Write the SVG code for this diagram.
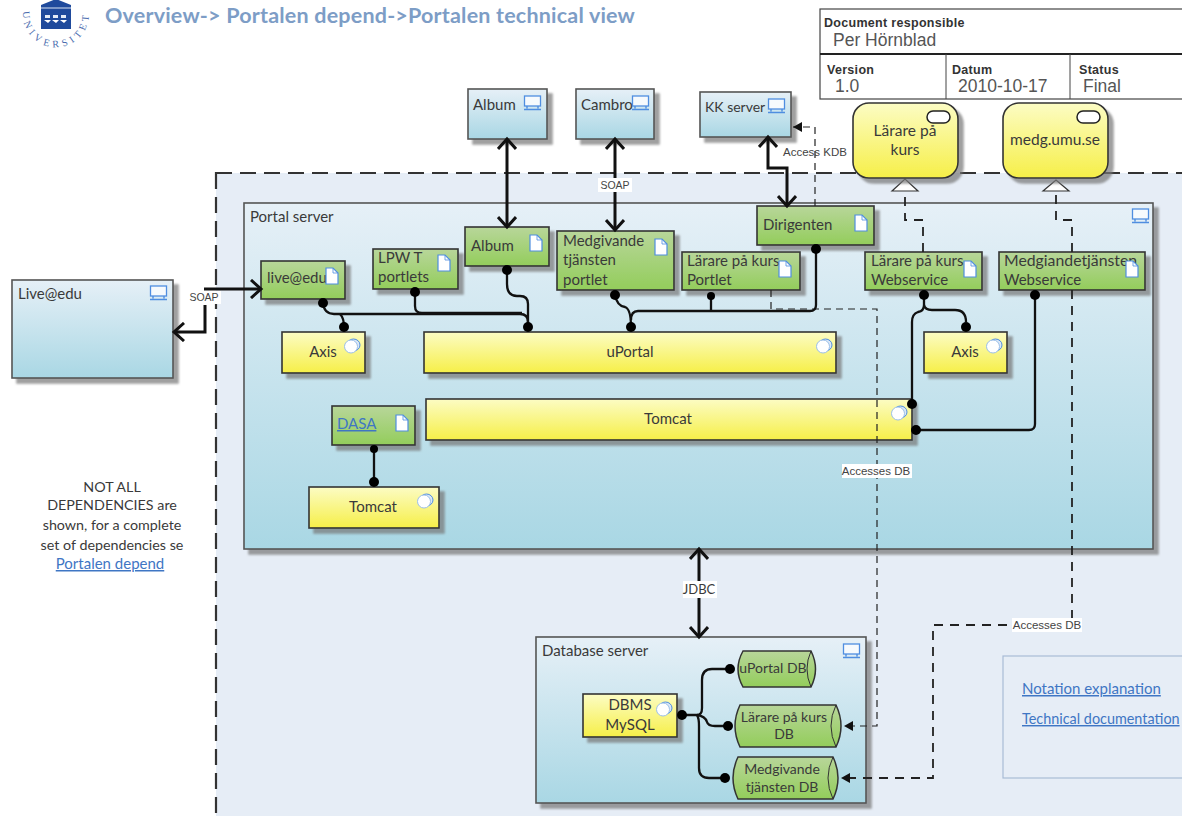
<svg xmlns="http://www.w3.org/2000/svg" width="1182" height="816" viewBox="0 0 1182 816">
<style>
text{font-family:"Lato","Liberation Sans",sans-serif;fill:#3a3a3a;font-size:15px}
.m{text-anchor:middle}
.box{stroke:#333;stroke-width:1.6;filter:url(#sh)}
.srv{fill:url(#gs);stroke:#555}
.yel{fill:url(#gy)}
.grn{fill:url(#gg)}
.link{fill:#3f76c4;text-decoration:underline}
.lab{font-family:"Liberation Sans",sans-serif;font-size:11.5px;fill:#444}
.tb{font-family:"Liberation Sans",sans-serif;font-size:12.5px;font-weight:bold;fill:#333;letter-spacing:.3px}
.tv{font-family:"Liberation Sans",sans-serif;font-size:17.5px;fill:#555}
.note{font-size:14.3px}
.c{fill:none;stroke:#111;stroke-width:2.3}
.ct{fill:none;stroke:#111;stroke-width:3}
.d{fill:none;stroke:#222;stroke-width:1.2;stroke-dasharray:7 5}
.dd{fill:none;stroke:#222;stroke-width:1.8;stroke-dasharray:9 7}
.dot{fill:#000}
.lbg{fill:#fff}
</style>
<defs>
<linearGradient id="gs" x1="0" y1="0" x2="0" y2="1"><stop offset="0" stop-color="#e6f0f7"/><stop offset="1" stop-color="#a9d7e4"/></linearGradient>
<linearGradient id="gy" x1="0" y1="0" x2="0" y2="1"><stop offset="0" stop-color="#fcfcc4"/><stop offset="1" stop-color="#f6ef48"/></linearGradient>
<linearGradient id="gg" x1="0" y1="0" x2="0" y2="1"><stop offset="0" stop-color="#b8d69a"/><stop offset="1" stop-color="#93cd5b"/></linearGradient>
<filter id="sh" x="-10%" y="-10%" width="125%" height="130%"><feDropShadow dx="5" dy="5" stdDeviation="1" flood-color="#777" flood-opacity=".7"/></filter>
<marker id="open" markerUnits="userSpaceOnUse" markerWidth="24" markerHeight="20" refX="20" refY="10" orient="auto-start-reverse"><path d="M10 1 L20 10 L10 19" fill="none" stroke="#111" stroke-width="3"/></marker>
<marker id="fill" markerUnits="userSpaceOnUse" markerWidth="12" markerHeight="12" refX="10" refY="6" orient="auto"><path d="M1 1 L10 6 L1 11Z" fill="#111"/></marker>
<symbol id="pc" width="19" height="16" viewBox="0 0 19 16"><rect x="1.5" y="1" width="16" height="10" fill="#f6fafd" stroke="#4f8ee0" stroke-width="1.3"/><path d="M4 11V13.5M15 11V13.5M1 14.5H18" fill="none" stroke="#4f8ee0" stroke-width="1.4"/></symbol>
<symbol id="doc" width="14" height="18" viewBox="0 0 14 18"><path d="M1 1H8L13 6V17H1Z" fill="#fff" stroke="#4f8ee0" stroke-width="1.2"/><path d="M8 1V6H13" fill="none" stroke="#4f8ee0" stroke-width=".8"/></symbol>
<symbol id="svc" width="18" height="16" viewBox="0 0 18 16"><ellipse cx="10.5" cy="7" rx="6.5" ry="6" fill="#dbe8f6" stroke="#4f8ee0"/><ellipse cx="8" cy="8.5" rx="6.5" ry="6.5" fill="#fff" stroke="#9cc0ea"/></symbol>
<path id="arc" d="M25 3A33 33 0 1 0 87 3"/>
</defs>

<g id="logo">
<path d="M41 29V5L56 -1L71 5V29Z" fill="#1f4a9c"/>
<path d="M41 8H71" stroke="#dbe4f3" stroke-width="1"/>
<path d="M45 15h5v3h-5zM53 15h5v3h-5zM61 15h5v3h-5z" fill="#e4ebf6"/>
<path d="M44 20l4 3l3 -3zM52 20l4 3l3 -3zM60 20l4 3l3 -3z" fill="#fff"/>
<text style="font-family:'Liberation Serif',serif;font-size:10px;fill:#4a6cae;letter-spacing:4px;text-anchor:middle"><textPath href="#arc" startOffset="50%">UNIVERSITET</textPath></text>
</g>
<text id="title" x="105" y="23" style="font-size:21.5px;font-weight:bold;fill:#7d9dc6;letter-spacing:.2px">Overview-&gt; Portalen depend-&gt;Portalen technical view</text>

<g id="doc-table" fill="none" stroke="#444">
<rect x="820" y="9" width="370" height="90" fill="#fff" stroke-width="1.2"/>
<path d="M820 54H1182" stroke-width="1.8" stroke="#222"/>
<path d="M946 54V99M1070 54V99" stroke-width="1"/>
<g stroke="none">
<text class="tb" x="824" y="27">Document responsible</text>
<text class="tv" x="833" y="46">Per Hörnblad</text>
<text class="tb" x="827" y="74">Version</text>
<text class="tv" x="835" y="92">1.0</text>
<text class="tb" x="952" y="74">Datum</text>
<text class="tv" x="958" y="92">2010-10-17</text>
<text class="tb" x="1079" y="74">Status</text>
<text class="tv" x="1083" y="92">Final</text>
</g>
</g>

<g id="zone"><rect x="216" y="173" width="1000" height="700" fill="#e6edf6" stroke="#333" stroke-width="2.2" stroke-dasharray="16 8"/></g>

<g id="live-server"><rect class="box srv" x="12" y="280" width="161" height="98"/><text x="18" y="299">Live@edu</text><use href="#pc" x="149" y="285"/></g>
<g id="album-server"><rect class="box srv" x="468" y="89" width="79" height="50"/><text x="473" y="110">Album</text><use href="#pc" x="523" y="95"/></g>
<g id="cambro-server"><rect class="box srv" x="576" y="89" width="78" height="50"/><text x="581" y="110">Cambro</text><use href="#pc" x="631" y="95"/></g>
<g id="kk-server"><rect class="box srv" x="700" y="92" width="91" height="45"/><text x="705" y="112" style="font-size:14px">KK server</text><use href="#pc" x="767" y="98"/></g>

<g id="portal-server"><rect class="box srv" x="244" y="203" width="909" height="346"/><text x="250" y="222">Portal server</text><use href="#pc" x="1131" y="208"/></g>
<g id="db-server"><rect class="box srv" x="536" y="637" width="330" height="166"/><text x="542" y="656">Database server</text><use href="#pc" x="842" y="643"/></g>

<g id="live-portlet"><rect class="box grn" x="261" y="261" width="84" height="38"/><text x="267" y="283">live@edu</text><use href="#doc" x="325" y="267"/></g>
<g id="lpw"><rect class="box grn" x="373" y="249" width="85" height="40"/><text x="378" y="263">LPW T</text><text x="378" y="282">portlets</text><use href="#doc" x="437" y="254"/></g>
<g id="album"><rect class="box grn" x="465" y="227" width="84" height="39"/><text x="471" y="251">Album</text><use href="#doc" x="529" y="234"/></g>
<g id="medgivande"><rect class="box grn" x="557" y="231" width="117" height="59"/><text x="563" y="246">Medgivande</text><text x="563" y="265">tjänsten</text><text x="563" y="285">portlet</text><use href="#doc" x="654" y="238"/></g>
<g id="larare-portlet"><rect class="box grn" x="682" y="252" width="118" height="38"/><text x="687" y="266">Lärare på kurs</text><text x="687" y="285">Portlet</text><use href="#doc" x="778" y="260"/></g>
<g id="dirigenten"><rect class="box grn" x="757" y="206" width="117" height="39"/><text x="763" y="230">Dirigenten</text><use href="#doc" x="854" y="214"/></g>
<g id="larare-ws"><rect class="box grn" x="865" y="252" width="117" height="38"/><text x="871" y="266">Lärare på kurs</text><text x="871" y="285">Webservice</text><use href="#doc" x="963" y="260"/></g>
<g id="medg-ws"><rect class="box grn" x="999" y="252" width="146" height="38"/><text x="1004" y="266" style="font-size:15.8px">Medgiandetjänsten</text><text x="1004" y="285">Webservice</text><use href="#doc" x="1125" y="260"/></g>
<g id="axis-left"><rect class="box yel" x="282" y="332" width="83" height="41"/><text class="m" x="323" y="357">Axis</text><use href="#svc" x="343" y="338"/></g>
<g id="uportal"><rect class="box yel" x="424" y="332" width="412" height="41"/><text class="m" x="630" y="357">uPortal</text><use href="#svc" x="815" y="338"/></g>
<g id="axis-right"><rect class="box yel" x="924" y="332" width="83" height="41"/><text class="m" x="965" y="357">Axis</text><use href="#svc" x="985" y="338"/></g>
<g id="tomcat-main"><rect class="box yel" x="426" y="399" width="486" height="41"/><text class="m" x="668" y="424">Tomcat</text><use href="#svc" x="890" y="405"/></g>
<g id="dasa"><rect class="box grn" x="332" y="406" width="83" height="39"/><text class="link" x="337" y="429">DASA</text><use href="#doc" x="395" y="414"/></g>
<g id="tomcat-dasa"><rect class="box yel" x="309" y="487" width="130" height="41"/><text class="m" x="373" y="512">Tomcat</text><use href="#svc" x="416" y="493"/></g>
<g id="dbms"><rect class="box yel" x="583" y="694" width="94" height="43"/><text class="m" x="630" y="710">DBMS</text><text class="m" x="630" y="730">MySQL</text><use href="#svc" x="655" y="701"/></g>
<g id="uportal-db"><path class="grn" stroke="#333" stroke-width="1.5" d="M743 651H811Q820 669 811 687H743Q733 669 743 651Z"/><path d="M811 651Q803 669 811 687" fill="none" stroke="#333"/><text class="m" x="773" y="673" style="font-size:14px">uPortal DB</text></g>
<g id="larare-db"><path class="grn" stroke="#333" stroke-width="1.5" d="M740 705H836Q846 726 836 747H740Q730 726 740 705Z"/><path d="M836 705Q826 726 836 747" fill="none" stroke="#333"/><text class="m" x="784" y="722" style="font-size:14px">Lärare på kurs</text><text class="m" x="784" y="739" style="font-size:14px">DB</text></g>
<g id="medg-db"><path class="grn" stroke="#333" stroke-width="1.5" d="M738 757H833Q843 778 833 799H738Q728 778 738 757Z"/><path d="M833 757Q823 778 833 799" fill="none" stroke="#333"/><text class="m" x="782" y="774" style="font-size:14px">Medgivande</text><text class="m" x="782" y="792" style="font-size:14px">tjänsten DB</text></g>

<g id="connectors">
<path class="ct" d="M507 139V227" marker-start="url(#open)" marker-end="url(#open)"/>
<path class="ct" d="M615 139V230" marker-start="url(#open)" marker-end="url(#open)"/>
<path class="ct" d="M768 137V168H787V206" marker-start="url(#open)" marker-end="url(#open)"/>
<path class="ct" d="M204 289H261" marker-end="url(#open)"/>
<path class="ct" d="M205 305V332H174" marker-end="url(#open)"/>
<path class="ct" d="M699 549V637" marker-start="url(#open)" marker-end="url(#open)"/>
<path class="d" d="M815 206V127H793" marker-end="url(#fill)"/>
<path class="d" d="M771 290V309H877V726H844" marker-end="url(#fill)"/>
<path class="dd" d="M1072 290V625H933V778H841" marker-end="url(#fill)"/>
<path class="dd" d="M923 252V220H905V191"/>
<path class="dd" d="M1072 252V220H1056V191"/>
<path d="M892 191L905 179L918 191Z" fill="#fff" stroke="#333" stroke-width="1.2"/>
<path d="M1043 191L1056 180L1069 191Z" fill="#fff" stroke="#333" stroke-width="1.2"/>
<path class="c" d="M323 303Q324 314 334 314H520Q528 314 528 322"/>
<path class="c" d="M340 314Q344 318 344 327"/>
<path class="c" d="M415 292V306Q415 313 422 313H522"/>
<path class="c" d="M507 270V284Q507 296 517 296H520Q528 296 528 304V327"/>
<path class="c" d="M615 295Q617 306 625 307Q631 309 631 327"/>
<path class="c" d="M816 249V305Q816 311 810 311H638Q631 311 631 320"/>
<path class="c" d="M711 296V311"/>
<path class="c" d="M924 295V305Q924 311 918 312Q912 314 912 322V404"/>
<path class="c" d="M924 305Q925 310 932 310H955Q966 310 966 322"/>
<path class="c" d="M1035 295V424Q1035 430 1029 430H917"/>
<path class="c" d="M374 449V482"/>
<path class="c" d="M682 715H697Q702 715 702 708V680Q702 669 712 669H730"/>
<path class="c" d="M697 715Q705 716 707 722Q708 726 715 726H728"/>
<path class="c" d="M697 715Q699 718 699 726V768Q699 778 709 778H725"/>
<g class="dot">
<circle cx="323" cy="303" r="5"/><circle cx="344" cy="327" r="5"/><circle cx="415" cy="292" r="5"/><circle cx="507" cy="270" r="5"/><circle cx="528" cy="327" r="5"/><circle cx="615" cy="295" r="5"/><circle cx="631" cy="327" r="5"/><circle cx="711" cy="296" r="4"/><circle cx="816" cy="249" r="5"/><circle cx="924" cy="295" r="5"/><circle cx="966" cy="327" r="5"/><circle cx="1035" cy="295" r="5"/><circle cx="912" cy="404" r="5"/><circle cx="916" cy="430" r="5"/><circle cx="374" cy="449" r="4"/><circle cx="374" cy="482" r="5"/><circle cx="682" cy="715" r="5"/><circle cx="730" cy="669" r="5"/><circle cx="728" cy="726" r="5"/><circle cx="725" cy="778" r="5"/>
</g>
<rect class="lbg" x="598" y="178" width="34" height="14"/><text class="lab m" x="615" y="189" style="font-size:10.5px">SOAP</text>
<rect class="lbg" x="188" y="291" width="33" height="13"/><text class="lab m" x="204" y="301" style="font-size:10.5px">SOAP</text>
<text class="lab m" x="815" y="156">Access KDB</text>
<rect class="lbg" x="842" y="464" width="70" height="14"/><text class="lab m" x="876" y="475">Accesses DB</text>
<rect class="lbg" x="1012" y="618" width="70" height="14"/><text class="lab m" x="1047" y="629">Accesses DB</text>
<rect class="lbg" x="683" y="581" width="34" height="17"/><text class="m" x="699" y="594" style="font-size:13px">JDBC</text>
</g>

<g id="larare-bubble"><rect class="box yel" x="853" y="103" width="105" height="75" rx="16"/><rect x="927" y="111" width="23" height="12" rx="6" fill="#fff" stroke="#222" stroke-width="1.5"/><text class="m" x="905" y="136" style="font-size:15.5px">Lärare på</text><text class="m" x="905" y="155" style="font-size:15.5px">kurs</text></g>
<g id="medg-bubble"><rect class="box yel" x="1003" y="103" width="105" height="75" rx="16"/><rect x="1077" y="111" width="23" height="12" rx="6" fill="#fff" stroke="#222" stroke-width="1.5"/><text class="m" x="1055" y="145" style="font-size:15.5px">medg.umu.se</text></g>

<g id="note"><text class="m note" x="112" y="492">NOT ALL</text><text class="m note" x="112" y="510">DEPENDENCIES are</text><text class="m note" x="112" y="530">shown, for a complete</text><text class="m note" x="112" y="550">set of dependencies se</text><text class="m link" x="110" y="569">Portalen depend</text></g>
<g id="links"><rect x="1003" y="656" width="200" height="122" fill="#e6edf6" stroke="#a9bcd6" stroke-width="1.2"/><text class="link" x="1022" y="694">Notation explanation</text><text class="link" x="1022" y="724" style="font-size:14.4px">Technical documentation</text></g>
</svg>
